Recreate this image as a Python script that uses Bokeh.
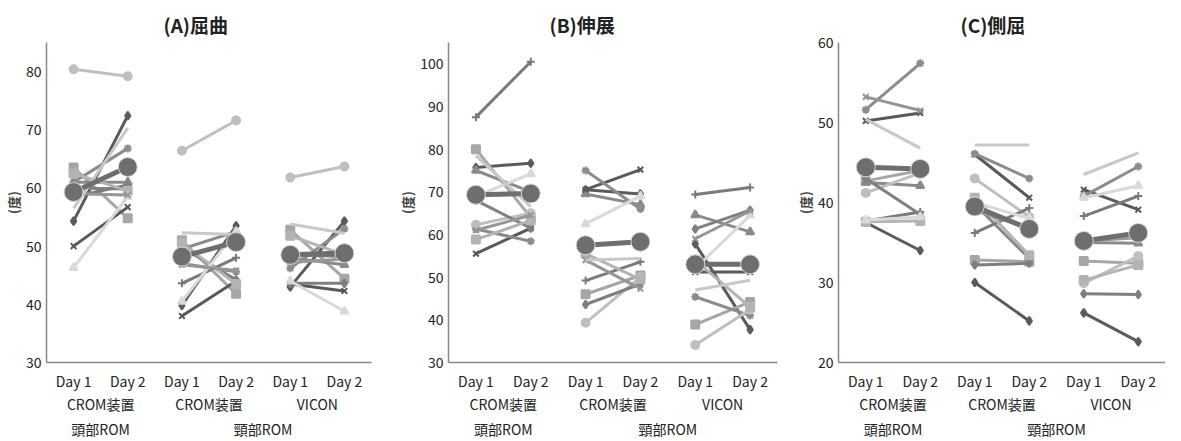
from bokeh.plotting import figure
from bokeh.models import Range1d, FixedTicker, LinearAxis
from bokeh.layouts import row
from bokeh.embed import file_html
from bokeh.resources import INLINE

# ---------------- data ----------------
days = ["Day 1", "Day 2"]
groups = [("頭部ROM", "CROM装置"), ("頸部ROM", "CROM装置"), ("頸部ROM", "VICON")]
top_labels = ["頭部ROM", "頸部ROM"]
titles = ["(A)屈曲", "(B)伸展", "(C)側屈"]
y_label = "(度)"

# (A) flexion: per group, Day 1 and Day 2 values for 12 subjects
flex_g1_d1 = [54.3, 63.5, 61.0, 50.0, 61.0, 80.4, 58.5, 60.0, 62.5, 46.3, 59.0, 56.5]
flex_g1_d2 = [72.4, 54.8, 61.0, 56.7, 66.8, 79.2, 60.5, 59.8, 59.5, 58.5, 58.8, 70.3]
flex_g2_d1 = [39.8, 51.0, 49.5, 38.0, 47.0, 66.4, 43.6, 49.8, 50.5, 40.5, 46.8, 52.3]
flex_g2_d2 = [53.5, 41.8, 52.5, 44.0, 45.6, 71.6, 48.0, 44.2, 43.5, 52.5, 45.8, 52.0]
flex_g3_d1 = [43.0, 52.8, 48.0, 43.5, 46.2, 61.8, 48.5, 43.6, 51.8, 44.0, 47.2, 53.8]
flex_g3_d2 = [54.3, 44.4, 46.8, 42.3, 53.0, 63.7, 48.2, 43.6, 48.5, 38.8, 47.8, 52.2]
flex_mean_d1 = [59.3, 48.2, 48.5]
flex_mean_d2 = [63.6, 50.7, 48.8]

# (B) extension
ext_g1_d1 = [75.7, 80.0, 75.0, 55.5, 61.3, 62.3, 87.5, 68.0, 58.8, 69.0, 61.0, 78.5]
ext_g1_d2 = [76.7, 64.0, 70.0, 61.5, 58.4, 65.0, 100.5, 61.5, 63.3, 74.2, 64.5, 66.5]
ext_g2_d1 = [70.5, 46.0, 69.5, 70.5, 75.0, 39.3, 49.2, 43.6, 55.5, 62.5, 54.0, 54.0]
ext_g2_d2 = [69.5, 50.4, 67.0, 75.2, 66.0, 50.0, 53.6, 48.4, 49.5, 69.0, 47.3, 54.4]
ext_g3_d1 = [57.8, 38.9, 64.6, 51.2, 45.4, 34.1, 69.4, 61.3, 54.0, 52.0, 59.0, 47.0]
ext_g3_d2 = [37.7, 44.2, 60.6, 51.2, 41.0, 42.4, 71.0, 65.7, 43.0, 64.5, 65.5, 49.3]
ext_mean_d1 = [69.3, 57.5, 53.0]
ext_mean_d2 = [69.6, 58.3, 53.0]

# (C) lateral flexion
lat_g1_d1 = [37.5, 42.7, 42.5, 50.2, 51.6, 41.2, 37.7, 43.0, 37.6, 37.8, 53.2, 50.4]
lat_g1_d2 = [34.0, 44.0, 42.1, 51.2, 57.4, 43.7, 38.8, 38.5, 37.7, 38.2, 51.5, 46.8]
lat_g2_d1 = [30.0, 32.8, 39.8, 46.0, 46.1, 43.0, 36.2, 32.2, 40.6, 40.0, 39.0, 47.2]
lat_g2_d2 = [25.2, 32.6, 33.0, 40.6, 43.0, 38.2, 39.3, 32.4, 33.4, 38.0, 36.8, 47.2]
lat_g3_d1 = [26.2, 32.7, 35.0, 41.6, 40.8, 29.9, 38.3, 28.6, 30.3, 40.6, 35.2, 43.5]
lat_g3_d2 = [22.6, 32.4, 34.9, 39.1, 44.5, 33.3, 40.8, 28.5, 32.2, 42.1, 35.6, 46.2]
lat_mean_d1 = [44.4, 39.5, 35.2]
lat_mean_d2 = [44.2, 36.7, 36.2]

y_ticks = [[30, 40, 50, 60, 70, 80], [30, 40, 50, 60, 70, 80, 90, 100], [20, 30, 40, 50, 60]]
y_ranges = [(30, 85), (30, 105), (20, 60)]

# ---------------- styles ----------------
markers = ["diamond", "square", "triangle", "x", "asterisk", "circle",
           "cross", "diamond", "square", "triangle", "x", None]
colors = ["#5b5b5b", "#a6a6a6", "#8a8a8a", "#595959", "#8c8c8c", "#bfbfbf",
          "#7a7a7a", "#7f7f7f", "#b3b3b3", "#d9d9d9", "#969696", "#c8c8c8"]
mean_color = "#6e6e6e"
FONT = "Noto Sans CJK JP"
TXT = "#222222"

FRAME_H = 320
panel_geom = [
    dict(width=387, min_border_left=40, min_border_right=16, title_offset=117),
    dict(width=395, min_border_left=61, min_border_right=5, title_offset=101),
    dict(width=383, min_border_left=56, min_border_right=0, title_offset=122),
]

panels = [
    ([(flex_g1_d1, flex_g1_d2), (flex_g2_d1, flex_g2_d2), (flex_g3_d1, flex_g3_d2)], (flex_mean_d1, flex_mean_d2)),
    ([(ext_g1_d1, ext_g1_d2), (ext_g2_d1, ext_g2_d2), (ext_g3_d1, ext_g3_d2)], (ext_mean_d1, ext_mean_d2)),
    ([(lat_g1_d1, lat_g1_d2), (lat_g2_d1, lat_g2_d2), (lat_g3_d1, lat_g3_d2)], (lat_mean_d1, lat_mean_d2)),
]

# x scale: each (group, day) slot is 2 units wide, its centre at 2*slot+1
n_slot = len(groups) * len(days)
def slot_x(gi, di):
    return 2 * (gi * len(days) + di) + 1

day_ticks = [slot_x(gi, di) for gi in range(len(groups)) for di in range(len(days))]
day_over = {slot_x(gi, di): days[di] for gi in range(len(groups)) for di in range(len(days))}
mid_ticks = [4 * gi + 2 for gi in range(len(groups))]
mid_over = {4 * gi + 2: groups[gi][1] for gi in range(len(groups))}
top_ticks = [2, 8]
top_over = {2: top_labels[0], 8: top_labels[1]}


def style_label_axis(ax, standoff, line):
    ax.major_tick_line_color = None
    ax.minor_tick_line_color = None
    ax.major_tick_out = 0
    ax.major_tick_in = 0
    ax.major_label_standoff = standoff
    ax.major_label_text_font = FONT
    ax.major_label_text_font_size = "14px"
    ax.major_label_text_color = TXT
    if line:
        ax.axis_line_color = "#888888"
        ax.axis_line_width = 1.5
    else:
        ax.axis_line_color = None


figs = []
for pi, (gdata, (m1, m2)) in enumerate(panels):
    g = panel_geom[pi]
    y0, y1 = y_ranges[pi]
    p = figure(x_range=Range1d(0, 2 * n_slot), y_range=Range1d(y0, y1),
               width=g["width"], frame_height=FRAME_H,
               output_backend="svg", toolbar_location=None, title=titles[pi],
               min_border_left=g["min_border_left"], min_border_right=g["min_border_right"],
               min_border_top=42, min_border_bottom=20)
    p.title.align = "left"
    p.title.offset = g["title_offset"]
    p.title.text_font = FONT
    p.title.text_font_size = "19px"
    p.title.text_font_style = "bold"
    p.title.text_color = TXT
    p.outline_line_color = None
    p.xgrid.grid_line_color = None
    p.ygrid.grid_line_color = None

    for gi, (d1, d2) in enumerate(gdata):
        xs = [slot_x(gi, 0), slot_x(gi, 1)]
        for si in range(len(d1)):
            ys = [d1[si], d2[si]]
            p.line(xs, ys, line_color=colors[si], line_width=3)
            if markers[si] is not None:
                p.scatter(xs, ys, marker=markers[si], size=8, fill_color=colors[si],
                          line_color=colors[si], line_width=2)
        mys = [m1[gi], m2[gi]]
        p.line(xs, mys, line_color=mean_color, line_width=5)
        p.scatter(xs, mys, marker="circle", size=19, fill_color=mean_color,
                  line_color="#d8d8d8", line_width=1)

    # day labels on the main x axis, group rows on extra axes below it
    p.xaxis.ticker = FixedTicker(ticks=day_ticks)
    p.xaxis.major_label_overrides = day_over
    style_label_axis(p.xaxis[0], 8, True)
    ax_mid = LinearAxis(ticker=FixedTicker(ticks=mid_ticks), major_label_overrides=mid_over)
    style_label_axis(ax_mid, 0, False)
    p.add_layout(ax_mid, "below")
    ax_top = LinearAxis(ticker=FixedTicker(ticks=top_ticks), major_label_overrides=top_over)
    style_label_axis(ax_top, 2, False)
    p.add_layout(ax_top, "below")

    p.yaxis.ticker = FixedTicker(ticks=y_ticks[pi])
    p.yaxis.axis_label = y_label
    p.yaxis.axis_label_text_font = FONT
    p.yaxis.axis_label_text_font_style = "bold"
    p.yaxis.axis_label_text_font_size = "13px"
    p.yaxis.axis_label_standoff = 0
    p.yaxis.major_label_text_font = FONT
    p.yaxis.major_label_text_font_size = "14px"
    p.yaxis.major_label_text_color = TXT
    p.yaxis.major_tick_line_color = None
    p.yaxis.minor_tick_line_color = None
    p.yaxis.major_tick_out = 0
    p.yaxis.major_tick_in = 0
    p.yaxis.major_label_standoff = 5
    p.yaxis.axis_line_color = "#888888"
    p.yaxis.axis_line_width = 1.5
    figs.append(p)

layout = row(*figs)
open("out.html", "w").write(file_html(layout, INLINE))
